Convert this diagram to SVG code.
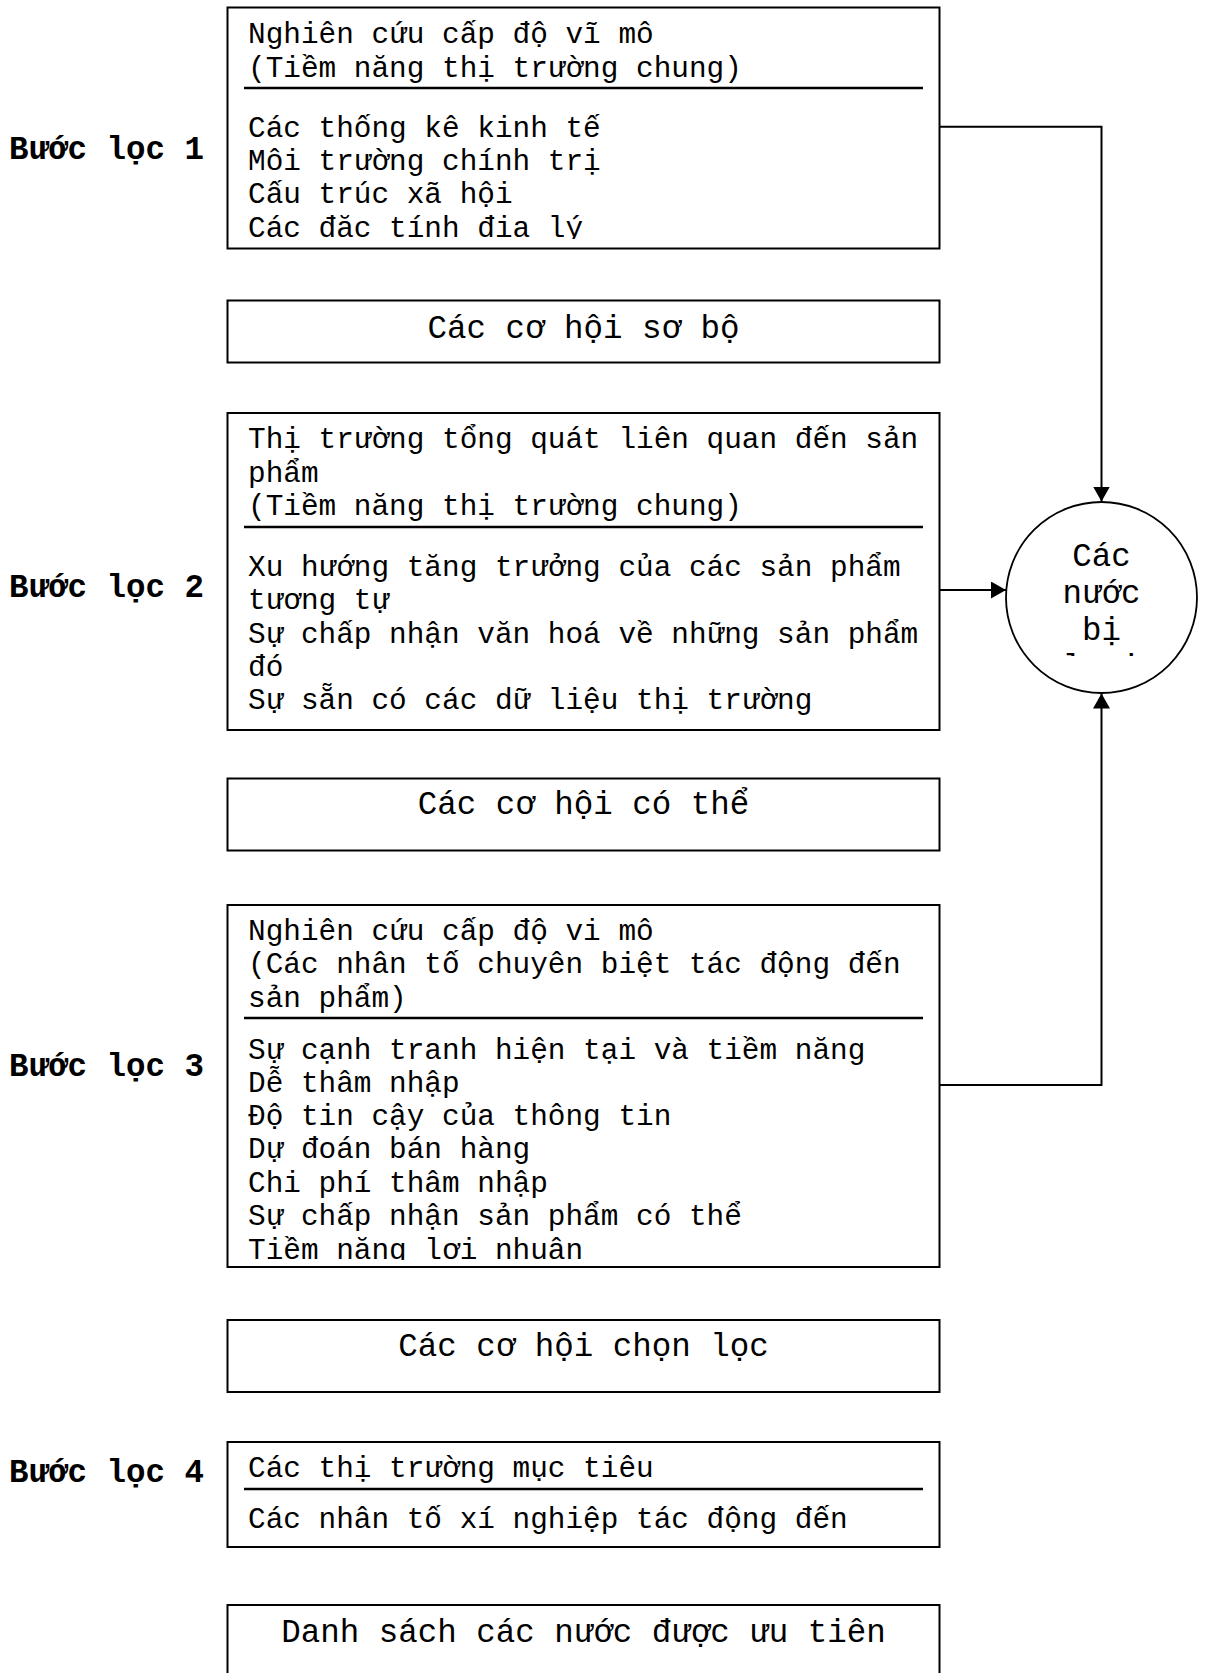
<svg xmlns="http://www.w3.org/2000/svg" width="1207" height="1673" viewBox="0 0 1207 1673">
<style>
.box{fill:#fff;stroke:#000;stroke-width:2}
.sep{stroke:#000;stroke-width:2.5}
.t{font-family:"Liberation Mono","Courier New",monospace;font-size:29.4px;fill:#000}
.c{font-family:"Liberation Mono","Courier New",monospace;font-size:32.5px;fill:#000;text-anchor:middle}
.lbl{font-family:"Liberation Mono","Courier New",monospace;font-size:32.5px;font-weight:bold;fill:#000}
.conn{fill:none;stroke:#000;stroke-width:2}
</style>
<defs>
<marker id="arr" markerUnits="userSpaceOnUse" viewBox="0 0 15 17" markerWidth="15" markerHeight="17" refX="15" refY="8.5" orient="auto">
<path d="M0,0 L15,8.5 L0,17 Z" fill="#000"/>
</marker>
<clipPath id="clip1"><rect x="228" y="8" width="711" height="231"/></clipPath>
<clipPath id="clip5"><rect x="228" y="906" width="711" height="354"/></clipPath>
<clipPath id="clipC"><rect x="1006" y="530" width="191" height="126"/></clipPath>
</defs>

<g id="labels">
<text class="lbl" x="9" y="159">Bước lọc 1</text>
<text class="lbl" x="9" y="597">Bước lọc 2</text>
<text class="lbl" x="9" y="1076">Bước lọc 3</text>
<text class="lbl" x="9" y="1482">Bước lọc 4</text>
</g>

<g id="node-macro">
<rect class="box" x="227.5" y="7.5" width="712" height="241"/>
<g clip-path="url(#clip1)">
<text class="t" x="248" y="43">Nghiên cứu cấp độ vĩ mô</text>
<text class="t" x="248" y="76.5">(Tiềm năng thị trường chung)</text>
<text class="t" x="248" y="137">Các thống kê kinh tế</text>
<text class="t" x="248" y="170">Môi trường chính trị</text>
<text class="t" x="248" y="203">Cấu trúc xã hội</text>
<text class="t" x="248" y="236.5">Các đặc tính địa lý</text>
</g>
<line class="sep" x1="244" y1="88" x2="923" y2="88"/>
</g>

<g id="node-preliminary">
<rect class="box" x="227.5" y="300.5" width="712" height="62"/>
<text class="c" x="583.5" y="338">Các cơ hội sơ bộ</text>
</g>

<g id="node-general-market">
<rect class="box" x="227.5" y="413" width="712" height="317"/>
<text class="t" x="248" y="448">Thị trường tổng quát liên quan đến sản</text>
<text class="t" x="248" y="481.5">phẩm</text>
<text class="t" x="248" y="515">(Tiềm năng thị trường chung)</text>
<line class="sep" x1="244" y1="527" x2="923" y2="527"/>
<text class="t" x="248" y="576">Xu hướng tăng trưởng của các sản phẩm</text>
<text class="t" x="248" y="609">tương tự</text>
<text class="t" x="248" y="642.5">Sự chấp nhận văn hoá về những sản phẩm</text>
<text class="t" x="248" y="676">đó</text>
<text class="t" x="248" y="709">Sự sẵn có các dữ liệu thị trường</text>
</g>

<g id="node-possible">
<rect class="box" x="227.5" y="778.5" width="712" height="72"/>
<text class="c" x="583.5" y="814">Các cơ hội có thể</text>
</g>

<g id="node-micro">
<rect class="box" x="227.5" y="905" width="712" height="362"/>
<text class="t" x="248" y="940">Nghiên cứu cấp độ vi mô</text>
<text class="t" x="248" y="973">(Các nhân tố chuyên biệt tác động đến</text>
<text class="t" x="248" y="1007">sản phẩm)</text>
<line class="sep" x1="244" y1="1018" x2="923" y2="1018"/>
<g clip-path="url(#clip5)">
<text class="t" x="248" y="1058.5">Sự cạnh tranh hiện tại và tiềm năng</text>
<text class="t" x="248" y="1092">Dễ thâm nhập</text>
<text class="t" x="248" y="1125">Độ tin cậy của thông tin</text>
<text class="t" x="248" y="1158">Dự đoán bán hàng</text>
<text class="t" x="248" y="1191.5">Chi phí thâm nhập</text>
<text class="t" x="248" y="1225">Sự chấp nhận sản phẩm có thể</text>
<text class="t" x="248" y="1258.5">Tiềm năng lợi nhuận</text>
</g>
</g>

<g id="node-selected">
<rect class="box" x="227.5" y="1320" width="712" height="72"/>
<text class="c" x="583.5" y="1356">Các cơ hội chọn lọc</text>
</g>

<g id="node-target">
<rect class="box" x="227.5" y="1442" width="712" height="105"/>
<text class="t" x="248" y="1477">Các thị trường mục tiêu</text>
<line class="sep" x1="244" y1="1489" x2="923" y2="1489"/>
<text class="t" x="248" y="1528">Các nhân tố xí nghiệp tác động đến</text>
</g>

<g id="node-priority">
<rect class="box" x="227.5" y="1605" width="712" height="100"/>
<text class="c" x="583.5" y="1642">Danh sách các nước được ưu tiên</text>
</g>

<g id="node-eliminated">
<circle cx="1101.5" cy="597.5" r="95.5" fill="#fff" stroke="#000" stroke-width="1.8"/>
<g clip-path="url(#clipC)">
<text class="c" x="1101.5" y="566">Các</text>
<text class="c" x="1101.5" y="603">nước</text>
<text class="c" x="1101.5" y="640">bị</text>
<text class="c" x="1101.5" y="677">loại</text>
</g>
</g>

<g id="connectors">
<path class="conn" d="M940,126.7 H1101.5 V501.5" marker-end="url(#arr)"/>
<path class="conn" d="M940,590 H1006" marker-end="url(#arr)"/>
<path class="conn" d="M940,1085 H1101.5 V693.5" marker-end="url(#arr)"/>
</g>
</svg>
